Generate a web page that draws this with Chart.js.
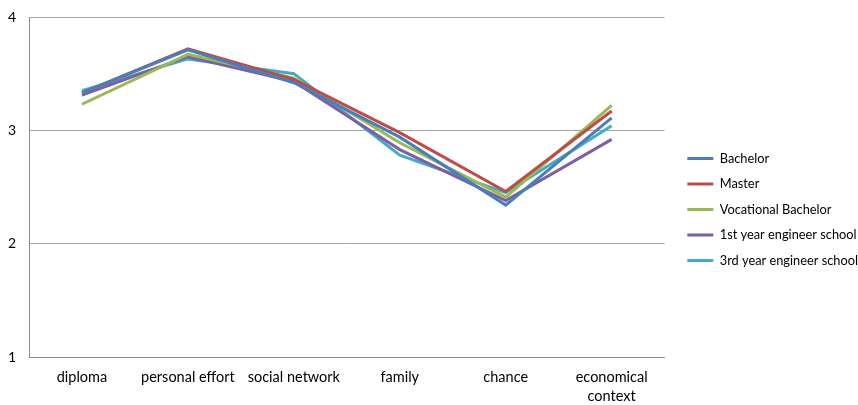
<!DOCTYPE html>
<html>
<head>
<meta charset="utf-8">
<script src="https://cdn.jsdelivr.net/npm/chart.js@4"></script>
<style>
    html, body { margin: 0; padding: 0; background: #fff; }
    #wrap { width: 858px; height: 405px; position: relative; }
</style>
</head>
<body>
<div id="wrap"><canvas id="chart"></canvas></div>
<script>
// カテゴリ
const categories = ['diploma', 'personal effort', 'social network', 'family', 'chance', ['economical', 'context']];

// 各系列の値
const bachelor = [3.33, 3.71, 3.42, 2.94, 2.34, 3.11];
const master = [3.33, 3.72, 3.45, 2.98, 2.46, 3.17];
const vocationalBachelor = [3.23, 3.67, 3.46, 2.89, 2.41, 3.22];
const firstYearEngineer = [3.31, 3.65, 3.43, 2.83, 2.38, 2.92];
const thirdYearEngineer = [3.35, 3.63, 3.50, 2.78, 2.45, 3.04];

const yTicks = [1, 2, 3, 4];

const FONT = 'Lato, "Open Sans", sans-serif';

function series(label, data, color) {
    return {
        label: label,
        data: data,
        borderColor: color,
        backgroundColor: color,
        borderWidth: 3,
        pointRadius: 0,
        tension: 0,
        fill: false
    };
}

// 凡例を少し右下へずらす
const legendShift = {
    id: 'legendShift',
    afterLayout(chart) {
        chart.legend.left += 10;
        chart.legend.right += 10;
        chart.legend.top += 7;
        chart.legend.bottom += 7;
    }
};

const ctx = document.getElementById('chart').getContext('2d');
new Chart(ctx, {
    type: 'line',
    data: {
        labels: categories,
        datasets: [
            series('Bachelor', bachelor, '#4a7ebb'),
            series('Master', master, '#be4b48'),
            series('Vocational Bachelor', vocationalBachelor, '#98b954'),
            series('1st year engineer school', firstYearEngineer, '#7d60a0'),
            series('3rd year engineer school', thirdYearEngineer, '#46aac5')
        ]
    },
    options: {
        responsive: true,
        maintainAspectRatio: false,
        animation: false,
        layout: {
            padding: { top: 0, right: 0, bottom: 0, left: 0 }
        },
        scales: {
            x: {
                offset: true,
                afterFit: (axis) => {
                    axis.height = 48;
                },
                grid: { display: false, drawTicks: false },
                border: { color: '#8c8c8c', width: 1 },
                ticks: {
                    color: '#000',
                    font: { family: FONT, size: 14.5, lineHeight: 1.3 },
                    padding: 11,
                    maxRotation: 0,
                    autoSkip: false
                }
            },
            y: {
                min: 1,
                max: 4,
                afterBuildTicks: (axis) => {
                    axis.ticks = yTicks.map(v => ({ value: v }));
                },
                afterFit: (axis) => {
                    axis.width = 29;
                    axis.paddingTop = 17;
                    axis.paddingBottom = 8;
                },
                grid: {
                    color: '#a6a6a6',
                    drawTicks: false
                },
                border: { color: '#8c8c8c', width: 1 },
                ticks: {
                    color: '#000',
                    font: { family: FONT, size: 14 },
                    padding: 13
                }
            }
        },
        plugins: {
            legend: {
                position: 'right',
                labels: {
                    boxWidth: 26,
                    boxHeight: 0,
                    color: '#000',
                    font: { family: FONT, size: 12.8 },
                    padding: 12.7,
                    generateLabels: (chart) => chart.data.datasets.map((ds, i) => ({
                        text: ds.label,
                        fillStyle: ds.borderColor,
                        strokeStyle: ds.borderColor,
                        lineWidth: 3,
                        hidden: false,
                        datasetIndex: i
                    }))
                }
            },
            tooltip: { enabled: false }
        }
    },
    plugins: [legendShift]
});
</script>
</body>
</html>
